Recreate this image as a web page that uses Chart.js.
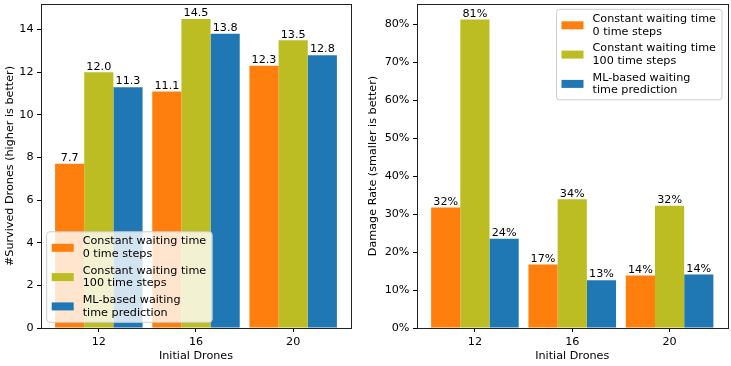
<!DOCTYPE html>
<html>
<head>
<meta charset="utf-8">
<script src="https://cdn.jsdelivr.net/npm/chart.js@4"></script>
<style>
  body { margin: 0; background: #fff; }
  .wrap { position: absolute; top: 0; height: 366px; }
</style>
</head>
<body>
<div class="wrap" style="left:0;width:365px"><canvas id="survivedChart" width="365" height="366"></canvas></div>
<div class="wrap" style="left:365px;width:366px"><canvas id="damageChart" width="366" height="366"></canvas></div>
<script>
// chart data
const categories = ['12', '16', '20'];
const seriesNames = [
    ['Constant waiting time', '0 time steps'],
    ['Constant waiting time', '100 time steps'],
    ['ML-based waiting', 'time prediction'],
];
const seriesColors = ['#ff7f0e', '#bcbd22', '#1f77b4'];

const survived0 = [7.7, 11.1, 12.3];
const survived100 = [12.0, 14.5, 13.5];
const survivedML = [11.3, 13.8, 12.8];

const damage0 = [31.7, 16.7, 13.8];
const damage100 = [81.2, 33.9, 32.2];
const damageML = [23.5, 12.6, 14.1];

const survivedTicks = [0, 2, 4, 6, 8, 10, 12, 14];
const damageTicks = [0, 10, 20, 30, 40, 50, 60, 70, 80];

Chart.defaults.font.family = 'DejaVu Sans';
Chart.defaults.font.size = 11.2;
Chart.defaults.color = '#000';

function makeDatasets(lists) {
    return lists.map(function (vals, k) {
        return {
            label: seriesNames[k].join(' '),
            data: vals.map(function (v, i) { return { x: i, y: v }; }),
            backgroundColor: seriesColors[k],
            borderWidth: 0,
            categoryPercentage: 0.9,
            barPercentage: 1.0,
        };
    });
}

// value labels above the bars
const barLabels = {
    id: 'barLabels',
    afterDatasetsDraw(chart, args, opts) {
        const ctx = chart.ctx;
        ctx.save();
        ctx.font = '11.2px DejaVu Sans';
        ctx.fillStyle = '#000';
        ctx.textAlign = 'center';
        ctx.textBaseline = 'bottom';
        chart.data.datasets.forEach(function (ds, k) {
            chart.getDatasetMeta(k).data.forEach(function (bar, i) {
                ctx.fillText(opts.format(ds.data[i].y), bar.x, bar.y);
            });
        });
        ctx.restore();
    }
};

// frame + legend box
const frameLegend = {
    id: 'frameLegend',
    afterDraw(chart, args, opts) {
        const ctx = chart.ctx;
        const a = chart.chartArea;
        ctx.save();
        ctx.strokeStyle = '#222';
        ctx.lineWidth = 1;
        ctx.strokeRect(Math.round(a.left) + 0.5, Math.round(a.top) + 0.5,
            Math.round(a.right - a.left), Math.round(a.bottom - a.top));

        const w = 165.5, h = 90.5;
        const bx = opts.corner === 'll' ? a.left + 5.7 : a.right - 5.5 - w;
        const by = opts.corner === 'll' ? a.bottom - 5.7 - h : a.top + 5.3;
        ctx.beginPath();
        ctx.roundRect(bx, by, w, h, 3);
        ctx.fillStyle = 'rgba(255,255,255,0.8)';
        ctx.fill();
        ctx.strokeStyle = '#cccccc';
        ctx.stroke();

        ctx.font = '11.2px DejaVu Sans';
        ctx.textAlign = 'left';
        ctx.textBaseline = 'middle';
        seriesNames.forEach(function (lines, k) {
            const cy = by + 16 + k * 29.3;
            ctx.fillStyle = seriesColors[k];
            ctx.fillRect(bx + 5, cy - 4, 22, 8);
            ctx.fillStyle = '#000';
            ctx.fillText(lines[0], bx + 36, cy - 6.3);
            ctx.fillText(lines[1], bx + 36, cy + 6.3);
        });
        ctx.restore();
    }
};

function makeChart(id, lists, yMax, yTicks, yTitle, yWidth, titlePad, rightPad, labelFmt, tickFmt, corner) {
    return new Chart(document.getElementById(id), {
        type: 'bar',
        data: { datasets: makeDatasets(lists) },
        options: {
            responsive: false,
            animation: false,
            layout: { padding: { left: 0, right: rightPad, top: 4, bottom: 0 } },
            plugins: {
                legend: { display: false },
                tooltip: { enabled: false },
                barLabels: { format: labelFmt },
                frameLegend: { corner: corner },
            },
            scales: {
                x: {
                    type: 'linear',
                    min: -0.595,
                    max: 2.595,
                    offset: false,
                    afterBuildTicks: function (s) { s.ticks = categories.map(function (c, i) { return { value: i }; }); },
                    afterFit: function (s) { s.height = 38; s.paddingLeft = 0; s.paddingRight = 0; },
                    ticks: { callback: function (v) { return categories[v]; }, padding: 3, maxRotation: 0 },
                    grid: { display: true, offset: false, drawOnChartArea: false, drawTicks: true, tickLength: 4, color: '#000' },
                    border: { display: false },
                    title: { display: true, text: 'Initial Drones', padding: { top: 0, bottom: 3.3 } },
                },
                y: {
                    min: 0,
                    max: yMax,
                    afterBuildTicks: function (s) { s.ticks = yTicks.map(function (v) { return { value: v }; }); },
                    afterFit: function (s) { s.width = yWidth; s.paddingTop = 0; s.paddingBottom = 0; },
                    ticks: { callback: tickFmt, padding: 3.5 },
                    grid: { display: true, drawOnChartArea: false, drawTicks: true, tickLength: 4, color: '#000' },
                    border: { display: false },
                    title: { display: true, text: yTitle, padding: { top: titlePad, bottom: 0 } },
                },
            },
        },
        plugins: [barLabels, frameLegend],
    });
}

makeChart('survivedChart', [survived0, survived100, survivedML], 15.2, survivedTicks,
    '#Survived Drones (higher is better)', 41, 3.3, 14,
    function (v) { return v.toFixed(1); }, function (v) { return v; }, 'll');

makeChart('damageChart', [damage0, damage100, damageML], 85.3, damageTicks,
    'Damage Rate (smaller is better)', 52, 1.6, 3.5,
    function (v) { return Math.round(v) + '%'; }, function (v) { return v + '%'; }, 'ur');
</script>
</body>
</html>
